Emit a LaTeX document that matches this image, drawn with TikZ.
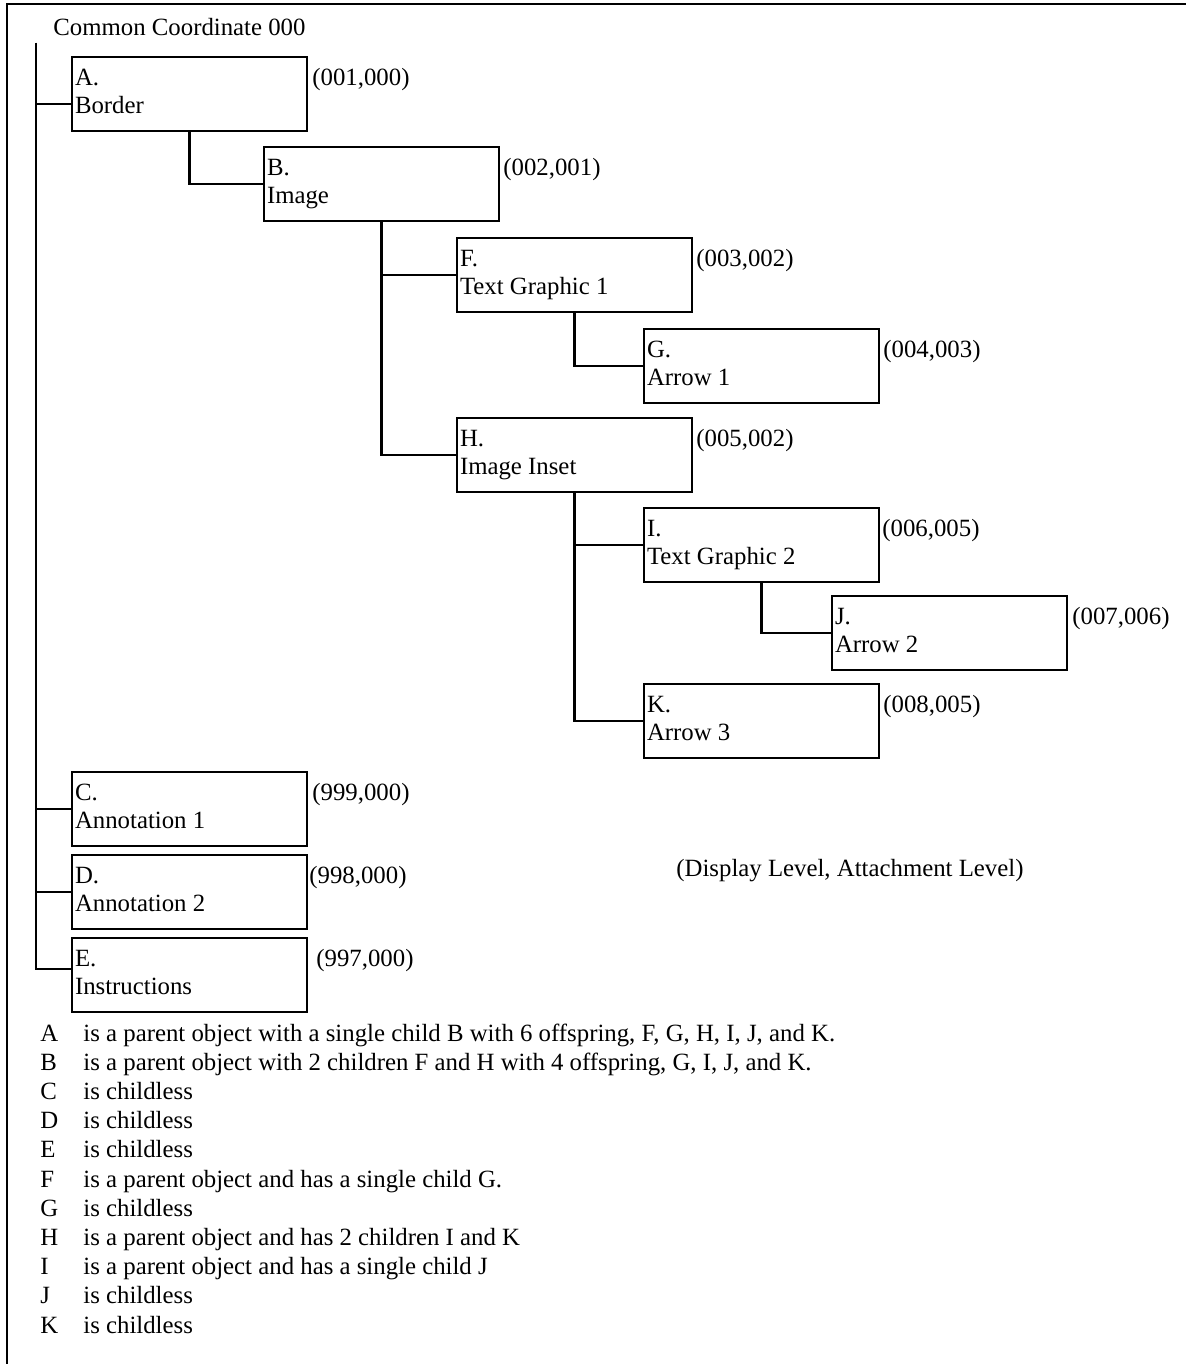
\documentclass[tikz,border=0pt]{standalone}
\usepackage{fontspec}
\setmainfont{Liberation Serif}
\usepackage{tikz}
\usetikzlibrary{positioning}

\begin{document}
\begin{tikzpicture}[
	font=\fontsize{12.4}{14}\selectfont,
	objbox/.style={
		draw,
		line width=1.2pt,
		outer sep=0pt,
		inner xsep=1.5pt,
		inner ysep=0pt,
		minimum width=117.5pt,
		minimum height=37pt,
		text width=114.5pt,
		align=flush left,
		execute at begin node=\strut,
		execute at end node=\strut
	},
	coordlabel/.style={anchor=base west, inner sep=0pt},
	link/.style={line width=1.2pt}
	]
	
	\useasboundingbox (0,0) rectangle (593pt,-682pt);
	
	% frame
	\draw[line width=1.2pt] (3.5pt,-682pt) -- (3.5pt,-2pt) -- (593pt,-2pt);
	
	\node[coordlabel] (common) at (26.5pt,-18pt) {Common Coordinate 000};
	\coordinate (root) at (18pt,-21.3pt);
	
	% objects
	\node[objbox, anchor=north west] (A) at (36pt,-28.5pt) {A.\\Border};
	\node[objbox, below right=8pt and 96pt of A.south west] (B) {B.\\Image};
	\node[objbox, below right=8.5pt and 96.5pt of B.south west] (F) {F.\\Text Graphic 1};
	\node[objbox, below right=8.5pt and 93.5pt of F.south west] (G) {G.\\Arrow 1};
	\node[objbox, below right=53pt and 0pt of F.south west] (H) {H.\\Image Inset};
	\node[objbox, below right=8pt and 93.5pt of H.south west] (I) {I.\\Text Graphic 2};
	\node[objbox, below right=7pt and 94pt of I.south west] (J) {J.\\Arrow 2};
	\node[objbox, below right=51pt and 0pt of I.south west] (K) {K.\\Arrow 3};
	\node[objbox, below right=320.5pt and 0pt of A.south west] (C) {C.\\Annotation 1};
	\node[objbox, below right=4.5pt and 0pt of C.south west] (D) {D.\\Annotation 2};
	\node[objbox, below right=4.5pt and 0pt of D.south west] (E) {E.\\Instructions};
	
	% (display, attachment) levels
	\foreach \obj/\lvl/\dx in {A/{(001,000)}/2.5, B/{(002,001)}/2, F/{(003,002)}/2,
		G/{(004,003)}/2, H/{(005,002)}/2, I/{(006,005)}/1.5, J/{(007,006)}/2.5,
		K/{(008,005)}/2, C/{(999,000)}/2.5, D/{(998,000)}/1, E/{(997,000)}/4.5}
	\node[coordlabel] (lbl\obj) at ([shift={(\dx pt,-14.3pt)}]\obj.north east) {\lvl};
	
	\node[coordlabel] (legend) at (338pt,-438.4pt) {(Display Level, Attachment Level)};
	
	% connectors
	\coordinate (Aport) at ([yshift=-5pt]A.west);
	\coordinate (Eport) at ([yshift=3pt]E.west);
	\draw[link] (root) |- (Eport);
	\draw[link] (root |- Aport) -- (Aport);
	\draw[link] (root |- C.west) -- (C.west);
	\draw[link] (root |- D.west) -- (D.west);
	\draw[link] (A.south) |- (B.west);
	\draw[link] (B.south) |- (F.west);
	\draw[link] (B.south) |- (H.west);
	\draw[link] (F.south) |- (G.west);
	\draw[link] (H.south) |- (I.west);
	\draw[link] (H.south) |- (K.west);
	\draw[link] (I.south) |- (J.west);
	
	% notes
	\foreach \obj/\note [count=\idx from 0] in {
		A/{is a parent object with a single child B with 6 offspring, F, G, H, I, J, and K.},
		B/{is a parent object with 2 children F and H with 4 offspring, G, I, J, and K.},
		C/{is childless},
		D/{is childless},
		E/{is childless},
		F/{is a parent object and has a single child G.},
		G/{is childless},
		H/{is a parent object and has 2 children I and K},
		I/{is a parent object and has a single child J},
		J/{is childless},
		K/{is childless}}
	{
		\node[coordlabel] (key\obj) at (20pt,{-520.5pt-\idx*14.6pt}) {\obj};
		\node[coordlabel] (note\obj) at (41.5pt,{-520.5pt-\idx*14.6pt}) {\note};
	}
	
\end{tikzpicture}
\end{document}
